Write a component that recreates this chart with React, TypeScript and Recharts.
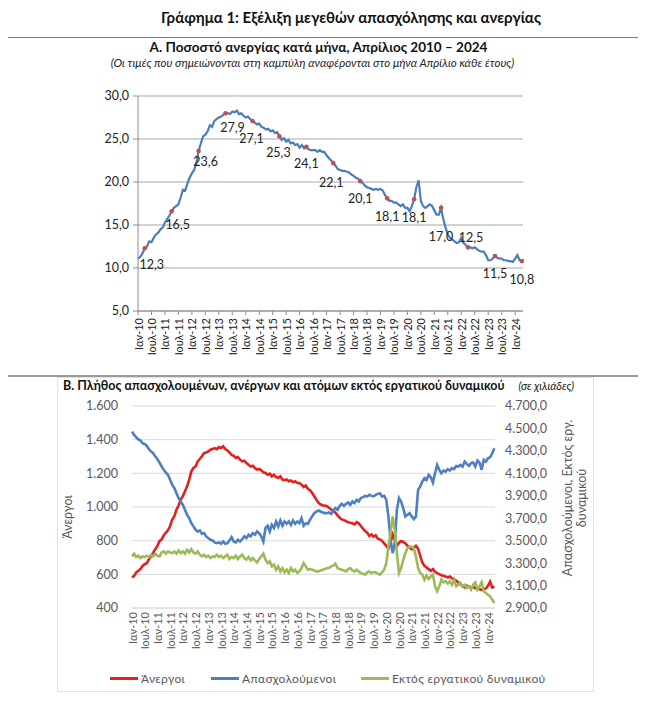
import React from "react";
import { LineChart, Line, XAxis, YAxis, CartesianGrid } from "recharts";

const F = "Lato, 'Noto Sans', 'DejaVu Sans', sans-serif";

// half-year tick labels, Jan 2010 .. Jan 2024
const tickLabels = [
  "Ιαν-10", "Ιουλ-10", "Ιαν-11", "Ιουλ-11", "Ιαν-12", "Ιουλ-12", "Ιαν-13", "Ιουλ-13",
  "Ιαν-14", "Ιουλ-14", "Ιαν-15", "Ιουλ-15", "Ιαν-16", "Ιουλ-16", "Ιαν-17", "Ιουλ-17",
  "Ιαν-18", "Ιουλ-18", "Ιαν-19", "Ιουλ-19", "Ιαν-20", "Ιουλ-20", "Ιαν-21", "Ιουλ-21",
  "Ιαν-22", "Ιουλ-22", "Ιαν-23", "Ιουλ-23", "Ιαν-24",
];

// values written on the curve, April of each year
const aprilLabels = [
  "12,3", "16,5", "23,6", "27,9", "27,1", "25,3", "24,1", "22,1",
  "20,1", "18,1", "18,1", "17,0", "12,5", "11,5", "10,8",
];

// monthly unemployment rate (%), Jan 2010 .. Apr 2024
const unemploymentRate = [
  11.1, 11.3, 11.7, 12.3, 12.5, 13.1, 13.0, 13.5, 13.9, 14.1, 14.5, 14.7,
  15.3, 15.7, 16.1, 16.6, 17.0, 17.2, 17.4, 18.2, 19.1, 19.0, 19.8, 20.5,
  21.0, 21.4, 22.2, 23.6, 24.5, 25.3, 25.5, 25.9, 26.6, 26.4, 27.1, 27.3,
  27.5, 27.6, 27.8, 28.0, 28.0, 27.9, 28.2, 28.1, 28.3, 27.9, 28.0, 27.7,
  27.5, 27.6, 27.3, 27.1, 26.9, 26.7, 26.8, 26.4, 26.3, 26.1, 26.2, 25.9,
  26.0, 25.7, 25.8, 25.3, 24.9, 25.1, 24.7, 24.9, 24.5, 24.6, 24.3, 24.4,
  24.0, 24.3, 23.9, 24.1, 23.8, 23.7, 23.7, 23.7, 23.5, 23.7, 23.5, 23.5,
  23.1, 22.8, 22.5, 22.2, 21.9, 21.5, 21.4, 21.3, 21.3, 21.2, 21.1, 20.9,
  20.7, 20.5, 20.4, 20.1, 19.9, 19.6, 19.4, 19.3, 19.2, 19.1, 19.2, 19.1,
  19.2, 19.0, 18.5, 18.1, 17.8, 17.8, 17.6, 17.6, 17.4, 17.2, 17.4, 17.0,
  17.0, 16.6, 17.2, 18.0, 19.4, 20.2, 17.8, 17.2, 17.0, 17.2, 17.4, 17.2,
  16.7, 16.2, 16.2, 17.0, 15.7, 14.7, 13.9, 13.5, 13.3, 13.1, 12.9, 13.0,
  13.5, 12.9, 12.7, 12.4, 12.4, 12.3, 12.4, 12.2, 12.0, 11.9, 11.9, 11.5,
  10.9, 10.9, 11.1, 11.4, 11.2, 11.1, 11.1, 10.9, 10.9, 10.8, 10.8, 10.7,
  11.1, 11.5, 10.9, 10.8,
];

// thousands, Jan 2010 .. Apr 2024
const unemployed = [
  582, 591, 611, 621, 631, 650, 660, 666, 690, 710, 729, 749,
  769, 798, 808, 832, 847, 863, 887, 926, 946, 985, 1009, 1044,
  1064, 1094, 1123, 1163, 1212, 1232, 1241, 1271, 1285, 1301, 1320, 1324,
  1330, 1340, 1344, 1350, 1344, 1356, 1350, 1360, 1344, 1336, 1324, 1310,
  1304, 1291, 1297, 1281, 1271, 1275, 1261, 1251, 1241, 1245, 1232, 1222,
  1226, 1218, 1206, 1202, 1192, 1198, 1182, 1192, 1178, 1173, 1182, 1163,
  1159, 1163, 1153, 1157, 1147, 1153, 1143, 1143, 1133, 1119, 1127, 1108,
  1100, 1084, 1064, 1044, 1025, 1015, 1009, 1009, 1005, 995, 985, 976,
  966, 950, 936, 926, 922, 916, 910, 907, 903, 897, 910, 903,
  887, 871, 857, 847, 828, 837, 824, 832, 812, 808, 798, 784,
  769, 753, 788, 837, 808, 769, 788, 798, 792, 784, 769, 759,
  749, 759, 769, 753, 710, 670, 650, 641, 631, 621, 631, 615,
  607, 601, 595, 591, 587, 582, 587, 576, 572, 562, 552, 542,
  528, 522, 532, 528, 522, 526, 518, 516, 512, 508, 512, 516,
  532, 556, 522, 528,
];

const employed = [
  4472, 4442, 4421, 4403, 4392, 4368, 4362, 4344, 4315, 4294, 4279, 4249,
  4226, 4196, 4160, 4131, 4107, 4086, 4042, 3997, 3968, 3923, 3879, 3849,
  3819, 3775, 3730, 3701, 3656, 3627, 3597, 3582, 3591, 3561, 3567, 3538,
  3523, 3508, 3502, 3484, 3478, 3484, 3472, 3493, 3472, 3478, 3502, 3532,
  3493, 3484, 3508, 3493, 3514, 3538, 3523, 3553, 3538, 3567, 3553, 3582,
  3567, 3538, 3493, 3612, 3633, 3582, 3641, 3612, 3671, 3627, 3680, 3633,
  3671, 3650, 3671, 3641, 3680, 3650, 3671, 3656, 3701, 3633, 3656, 3650,
  3686, 3716, 3745, 3760, 3769, 3760, 3751, 3745, 3745, 3751, 3739, 3769,
  3790, 3775, 3810, 3828, 3810, 3828, 3840, 3819, 3849, 3834, 3864, 3849,
  3879, 3888, 3899, 3894, 3908, 3899, 3894, 3908, 3917, 3923, 3894, 3899,
  3864, 3716, 3508, 3389, 3478, 3775, 3879, 3849, 3790, 3716, 3731, 3745,
  3716, 3692, 3716, 3953, 3982, 4027, 4057, 4042, 4086, 4065, 4018, 4101,
  4175, 4131, 4101, 4125, 4116, 4137, 4125, 4146, 4137, 4166, 4160, 4175,
  4160, 4205, 4184, 4166, 4190, 4196, 4160, 4214, 4196, 4131, 4220, 4205,
  4235, 4243, 4279, 4323,
];

const outsideLabourForce = [
  3360, 3384, 3354, 3366, 3345, 3360, 3354, 3366, 3354, 3375, 3360, 3384,
  3366, 3360, 3395, 3404, 3384, 3404, 3395, 3389, 3404, 3384, 3413, 3389,
  3404, 3384, 3419, 3395, 3425, 3395, 3384, 3404, 3375, 3360, 3375, 3354,
  3366, 3345, 3360, 3354, 3375, 3354, 3366, 3345, 3360, 3375, 3336, 3354,
  3345, 3366, 3336, 3360, 3375, 3345, 3330, 3354, 3324, 3345, 3324, 3306,
  3336, 3360, 3384, 3330, 3300, 3315, 3271, 3286, 3241, 3271, 3226, 3256,
  3218, 3241, 3212, 3256, 3226, 3241, 3212, 3226, 3256, 3300, 3271, 3241,
  3247, 3241, 3235, 3226, 3226, 3235, 3241, 3247, 3256, 3256, 3271, 3277,
  3295, 3256, 3247, 3241, 3235, 3226, 3247, 3256, 3235, 3226, 3241, 3226,
  3212, 3206, 3197, 3218, 3226, 3212, 3218, 3218, 3206, 3197, 3218, 3241,
  3300, 3449, 3567, 3716, 3597, 3389, 3212, 3256, 3330, 3389, 3434, 3449,
  3443, 3434, 3360, 3256, 3212, 3197, 3152, 3188, 3158, 3182, 3197, 3093,
  3049, 3093, 3152, 3129, 3138, 3117, 3138, 3108, 3152, 3093, 3108, 3123,
  3093, 3108, 3078, 3093, 3063, 3108, 3129, 3063, 3093, 3129, 3049, 3034,
  3019, 3004, 2974, 2945,
];

const rateTicks = [5, 10, 15, 20, 25, 30];
const leftTicks = [400, 600, 800, 1000, 1200, 1400, 1600];
const rightTicks = [2900, 3100, 3300, 3500, 3700, 3900, 4100, 4300, 4500, 4700];

// label placement relative to the April dot (dx, dy)
const labelOffsets = [
  [7, 16], [6, 13], [7, 10], [7, 14], [-1, 18], [-1, 16], [0, 17], [-2, 19],
  [0, 17], [0, 18], [0, 18], [0, 29], [3, -10], [0, 18], [0, 18],
];

const rateData = unemploymentRate.map((v, m) => ({ m, rate: v }));
const countData = unemployed.map((v, m) => ({
  m,
  unemployed: v,
  employed: employed[m],
  outside: outsideLabourForce[m],
}));
const xTicks = tickLabels.map((_, i) => i * 6);

const thousands = (v: number) =>
  v >= 1000 ? `${Math.floor(v / 1000)}.${String(v % 1000).padStart(3, "0")}` : String(v);

const RotTick = (props: any) => {
  const { x, y, payload, color, size } = props;
  const label = tickLabels[Math.round(payload.value / 6)];
  return (
    <text
      x={x}
      y={y}
      transform={`rotate(-90 ${x} ${y})`}
      textAnchor="end"
      dominantBaseline="central"
      fontSize={size}
      fill={color}
      fontFamily={F}
    >
      {label}
    </text>
  );
};

const aprilDot = (props: any) => {
  const { cx, cy, index } = props;
  if (index % 12 !== 3 || cx == null || cy == null) return <g key={`d${index}`} />;
  const k = (index - 3) / 12;
  const [dx, dy] = labelOffsets[k];
  return (
    <g key={`d${index}`}>
      <circle cx={cx} cy={cy} r={2.3} fill="#c0504d" />
      <text
        x={cx + dx}
        y={cy + dy}
        textAnchor="middle"
        dominantBaseline="central"
        fontSize={12.5}
        fill="#222"
        fontFamily={F}
      >
        {aprilLabels[k]}
      </text>
    </g>
  );
};

const abs = (left: number, top: number, extra: React.CSSProperties = {}): React.CSSProperties => ({
  position: "absolute",
  left,
  top,
  ...extra,
});

function LegendItem({ x, color, text }: { x: number; color: string; text: string }) {
  return (
    <div style={abs(x, 669, { display: "flex", alignItems: "center", height: 18 })}>
      <div style={{ width: 28, height: 3, background: color, marginRight: 3 }} />
      <span style={{ fontSize: 12, color: "#595959", fontFamily: F, letterSpacing: 0.3 }}>{text}</span>
    </div>
  );
}

export default function App() {
  return (
    <div style={{ position: "relative", width: 646, height: 707, margin: -8, background: "#fff", fontFamily: F, overflow: "hidden" }}>
      <div style={abs(0, 0, { width: 646, height: 3, background: "#ece6dc" })} />
      <div style={abs(0, 8, { width: 646, textAlign: "center", fontWeight: 700, fontSize: 15, color: "#111", paddingLeft: 56, boxSizing: "border-box" })}>
        Γράφημα 1: Εξέλιξη μεγεθών απασχόλησης και ανεργίας
      </div>

      {/* frames */}
      <div style={abs(4, 37, { width: 637, height: 338, border: "1px solid #7a7a7a", borderBottom: "none", boxSizing: "border-box" })} />
      <div style={abs(4, 375, { width: 637, height: 2, background: "#9a9a9a" })} />
      <div style={abs(4, 377, { width: 637, height: 326, borderLeft: "1px solid #7a7a7a", borderRight: "1px solid #7a7a7a", boxSizing: "border-box" })} />
      <div style={abs(0, 702, { width: 646, height: 5, background: "#a8a8a8" })} />
      <div style={abs(57, 377, { width: 537, height: 315, border: "1px solid #e0e0e0", boxSizing: "border-box" })} />

      {/* panel A */}
      <div style={abs(4, 39, { width: 637, textAlign: "center", fontWeight: 700, fontSize: 13.5, color: "#111", paddingRight: 8, boxSizing: "border-box" })}>
        Α. Ποσοστό ανεργίας κατά μήνα, Απρίλιος 2010 – 2024
      </div>
      <div style={abs(4, 56, { width: 637, textAlign: "center", fontStyle: "italic", fontSize: 11.5, color: "#222", paddingRight: 20, boxSizing: "border-box" })}>
        (Οι τιμές που σημειώνονται στη καμπύλη αναφέρονται στο μήνα Απρίλιο κάθε έτους)
      </div>
      <div style={abs(60, 80)}>
        <LineChart width={480} height={290} data={rateData} margin={{ top: 16, right: 17, bottom: 9, left: 28 }}>
          <CartesianGrid vertical={false} stroke="#a6a6a6" />
          <XAxis
            dataKey="m"
            type="number"
            domain={[0, 171.5]}
            ticks={xTicks}
            interval={0}
            height={50}
            tickSize={4}
            tickMargin={3}
            axisLine={{ stroke: "#8c8c8c" }}
            tickLine={{ stroke: "#8c8c8c" }}
            tick={(p: any) => <RotTick {...p} color="#222" size={11} />}
          />
          <YAxis
            domain={[5, 30]}
            ticks={rateTicks}
            interval={0}
            width={50}
            tickSize={5}
            tickMargin={4}
            axisLine={{ stroke: "#8c8c8c" }}
            tickLine={{ stroke: "#8c8c8c" }}
            tick={{ fill: "#222", fontSize: 12.5, fontFamily: F }}
            tickFormatter={(v: number) => v.toFixed(1).replace(".", ",")}
          />
          <Line
            type="linear"
            dataKey="rate"
            stroke="#4a7ebb"
            strokeWidth={2.2}
            dot={aprilDot}
            activeDot={false}
            isAnimationActive={false}
          />
        </LineChart>
      </div>

      {/* panel B */}
      <div style={abs(63, 378, { fontWeight: 700, fontSize: 12.5, color: "#111", whiteSpace: "nowrap" })}>
        Β. Πλήθος απασχολουμένων, ανέργων και ατόμων εκτός εργατικού δυναμικού
        <span style={{ fontWeight: 400, fontStyle: "italic", fontSize: 11, marginLeft: 14 }}>(σε χιλιάδες)</span>
      </div>
      <div style={abs(20, 395)}>
        <LineChart width={580} height={270} data={countData} margin={{ top: 11, right: 45, bottom: 7, left: 0 }}>
          <CartesianGrid vertical={false} stroke="#d9d9d9" />
          <XAxis
            dataKey="m"
            type="number"
            domain={[0, 171.3]}
            ticks={xTicks}
            interval={0}
            height={50}
            tickSize={2}
            tickMargin={2}
            axisLine={{ stroke: "#d9d9d9" }}
            tickLine={false}
            tick={(p: any) => <RotTick {...p} color="#595959" size={11} />}
          />
          <YAxis
            domain={[400, 1600]}
            ticks={leftTicks}
            interval={0}
            width={112}
            tickMargin={8}
            axisLine={false}
            tickLine={false}
            tick={{ fill: "#595959", fontSize: 12.5, fontFamily: F }}
            tickFormatter={thousands}
          />
          <YAxis
            yAxisId="right"
            orientation="right"
            domain={[2900, 4700]}
            ticks={rightTicks}
            interval={0}
            width={60}
            tickMargin={4}
            axisLine={false}
            tickLine={false}
            tick={{ fill: "#595959", fontSize: 12.5, fontFamily: F, textAnchor: "start" }}
            tickFormatter={(v: number) => `${thousands(v)},0`}
          />
          <Line type="linear" dataKey="unemployed" stroke="#e3211c" strokeWidth={2.6} dot={false} activeDot={false} isAnimationActive={false} />
          <Line type="linear" dataKey="employed" yAxisId="right" stroke="#4f7fbf" strokeWidth={2.6} dot={false} activeDot={false} isAnimationActive={false} />
          <Line type="linear" dataKey="outside" yAxisId="right" stroke="#9bbb59" strokeWidth={2.6} dot={false} activeDot={false} isAnimationActive={false} />
        </LineChart>
      </div>
      <div style={abs(67, 517, { transform: "translate(-50%, -50%) rotate(-90deg)", fontSize: 12.5, color: "#595959", whiteSpace: "nowrap" })}>
        Άνεργοι
      </div>
      <div style={abs(575, 498, { transform: "translate(-50%, -50%) rotate(-90deg)", fontSize: 12.5, color: "#595959", whiteSpace: "nowrap", textAlign: "center", lineHeight: "14px" })}>
        Απασχολούμενοι, Εκτός εργ.
        <br />
        δυναμικού
      </div>
      <LegendItem x={110} color="#e3211c" text="Άνεργοι" />
      <LegendItem x={211} color="#4f7fbf" text="Απασχολούμενοι" />
      <LegendItem x={361} color="#9bbb59" text="Εκτός εργατικού δυναμικού" />
    </div>
  );
}
